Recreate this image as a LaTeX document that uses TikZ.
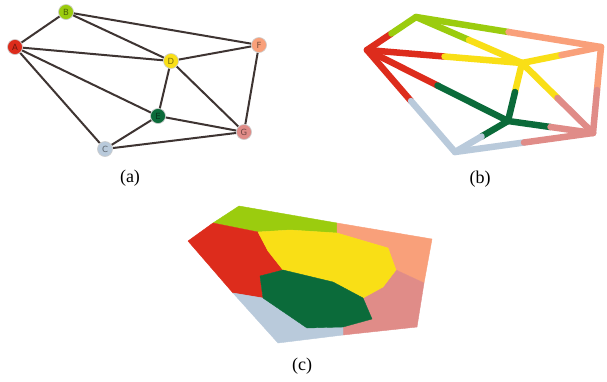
\documentclass[tikz,border=0pt]{standalone}
\usepackage{fontspec}
\setmainfont{Liberation Serif}
\newfontfamily\lblfont{DejaVu Sans}
\usetikzlibrary{calc}
\pgfdeclarelayer{bg}
\pgfsetlayers{bg,main}
\definecolor{cA}{HTML}{DD2C1C}
\definecolor{cB}{HTML}{9BCC0E}
\definecolor{cC}{HTML}{B9CADB}
\definecolor{cD}{HTML}{F9DF16}
\definecolor{cE}{HTML}{0B6B3A}
\definecolor{cF}{HTML}{F9A07A}
\definecolor{cG}{HTML}{E08C88}
\definecolor{edgecol}{HTML}{3E3432}
\tikzset{
  vtx/.style={circle, draw=black!20, line width=0.6pt, minimum size=15pt, inner sep=0pt, font=\lblfont\fontsize{8.5}{8.5}\selectfont, text=black, text opacity=0.5},
  gedge/.style={draw=edgecol, line width=2pt},
  bedge/.style={line width=6.5pt, line cap=round},
  region/.style={line width=0.4pt, line join=round},
  caption/.style={font=\fontsize{18}{18}\selectfont}
}
\newcommand{\halfedge}[4]{%
  \draw[bedge, #3] (#1) -- ($(#1)!0.5!(#2)$);
  \draw[bedge, #4] ($(#1)!0.5!(#2)$) -- (#2);}
\begin{document}
\begin{tikzpicture}[x=1pt,y=-1pt]
\useasboundingbox (0,0) rectangle (607,381);
\begin{pgfonlayer}{bg}
\fill[white] (0,0) rectangle (607,381);
\end{pgfonlayer}
% ---------- (a)
\node[vtx, fill=cA] (A) at (15,47) {A};
\node[vtx, fill=cB] (B) at (66,12) {B};
\node[vtx, fill=cD] (D) at (171,61) {D};
\node[vtx, fill=cF] (F) at (259,45) {F};
\node[vtx, fill=cE] (E) at (158,116) {E};
\node[vtx, fill=cG] (G) at (244,132) {G};
\node[vtx, fill=cC] (C) at (105,149) {C};
\begin{pgfonlayer}{bg}
\foreach \u/\v in {A/B,A/D,A/E,A/C,B/D,B/F,D/F,D/E,D/G,F/G,E/G,E/C,C/G}
  \draw[gedge] (\u) -- (\v);
\end{pgfonlayer}
\node[caption] (capa) at (130,178) {(a)};
% ---------- (b)
\coordinate (A2) at (367,50);
\coordinate (B2) at (416,17);
\coordinate (D2) at (522,63);
\coordinate (F2) at (601,47);
\coordinate (E2) at (508,121);
\coordinate (G2) at (593,133);
\coordinate (C2) at (455,152);
\halfedge{A2}{B2}{cA}{cB}
\halfedge{A2}{C2}{cA}{cC}
\halfedge{A2}{E2}{cA}{cE}
\halfedge{A2}{D2}{cA}{cD}
\halfedge{B2}{F2}{cB}{cF}
\halfedge{B2}{D2}{cB}{cD}
\halfedge{D2}{F2}{cD}{cF}
\halfedge{D2}{G2}{cD}{cG}
\halfedge{D2}{E2}{cD}{cE}
\halfedge{F2}{G2}{cF}{cG}
\halfedge{E2}{G2}{cE}{cG}
\halfedge{E2}{C2}{cE}{cC}
\halfedge{C2}{G2}{cC}{cG}
\node[caption] (capb) at (480,179) {(b)};
% ---------- (c)
\coordinate (O1) at (239,206);
\coordinate (O2) at (213,223);
\coordinate (O3) at (188,241);
\coordinate (O4) at (233,293);
\coordinate (O5) at (278,343);
\coordinate (O6) at (343,335);
\coordinate (O7) at (417,327);
\coordinate (O8) at (424,283);
\coordinate (O9) at (432,239);
\coordinate (O10) at (337,223);
\coordinate (Y1) at (258,232);
\coordinate (Yt) at (290,230);
\coordinate (Y2) at (337,233);
\coordinate (Y3) at (388,248);
\coordinate (Y4) at (396,270);
\coordinate (Y5) at (383,287);
\coordinate (Y6) at (363,298);
\coordinate (Yl) at (268,251);
\coordinate (K1) at (333,282);
\coordinate (K2) at (283,270);
\coordinate (K0) at (260,276);
\coordinate (K7) at (263,298);
\coordinate (K6) at (307,328);
\coordinate (K5) at (343,327);
\coordinate (K4) at (372,319);
\filldraw[region, fill=cB, draw=cB] (O1) -- (O10) -- (Y2) -- (Yt) -- (Y1) -- (O2) -- cycle;
\filldraw[region, fill=cA, draw=cA] (O2) -- (Y1) -- (Yl) -- (K2) -- (K0) -- (K7) -- (O4) -- (O3) -- cycle;
\filldraw[region, fill=cF, draw=cF] (O10) -- (O9) -- (O8) -- (Y4) -- (Y3) -- (Y2) -- cycle;
\filldraw[region, fill=cG, draw=cG] (Y4) -- (O8) -- (O7) -- (O6) -- (K5) -- (K4) -- (Y6) -- (Y5) -- cycle;
\filldraw[region, fill=cC, draw=cC] (O4) -- (K7) -- (K6) -- (K5) -- (O6) -- (O5) -- cycle;
\filldraw[region, fill=cD, draw=cD] (Y1) -- (Yt) -- (Y2) -- (Y3) -- (Y4) -- (Y5) -- (Y6) -- (K1) -- (K2) -- (Yl) -- cycle;
\filldraw[region, fill=cE, draw=cE] (K2) -- (K1) -- (Y6) -- (K4) -- (K5) -- (K6) -- (K7) -- (K0) -- cycle;
\node[caption] (capc) at (302,366) {(c)};
\end{tikzpicture}
\end{document}
